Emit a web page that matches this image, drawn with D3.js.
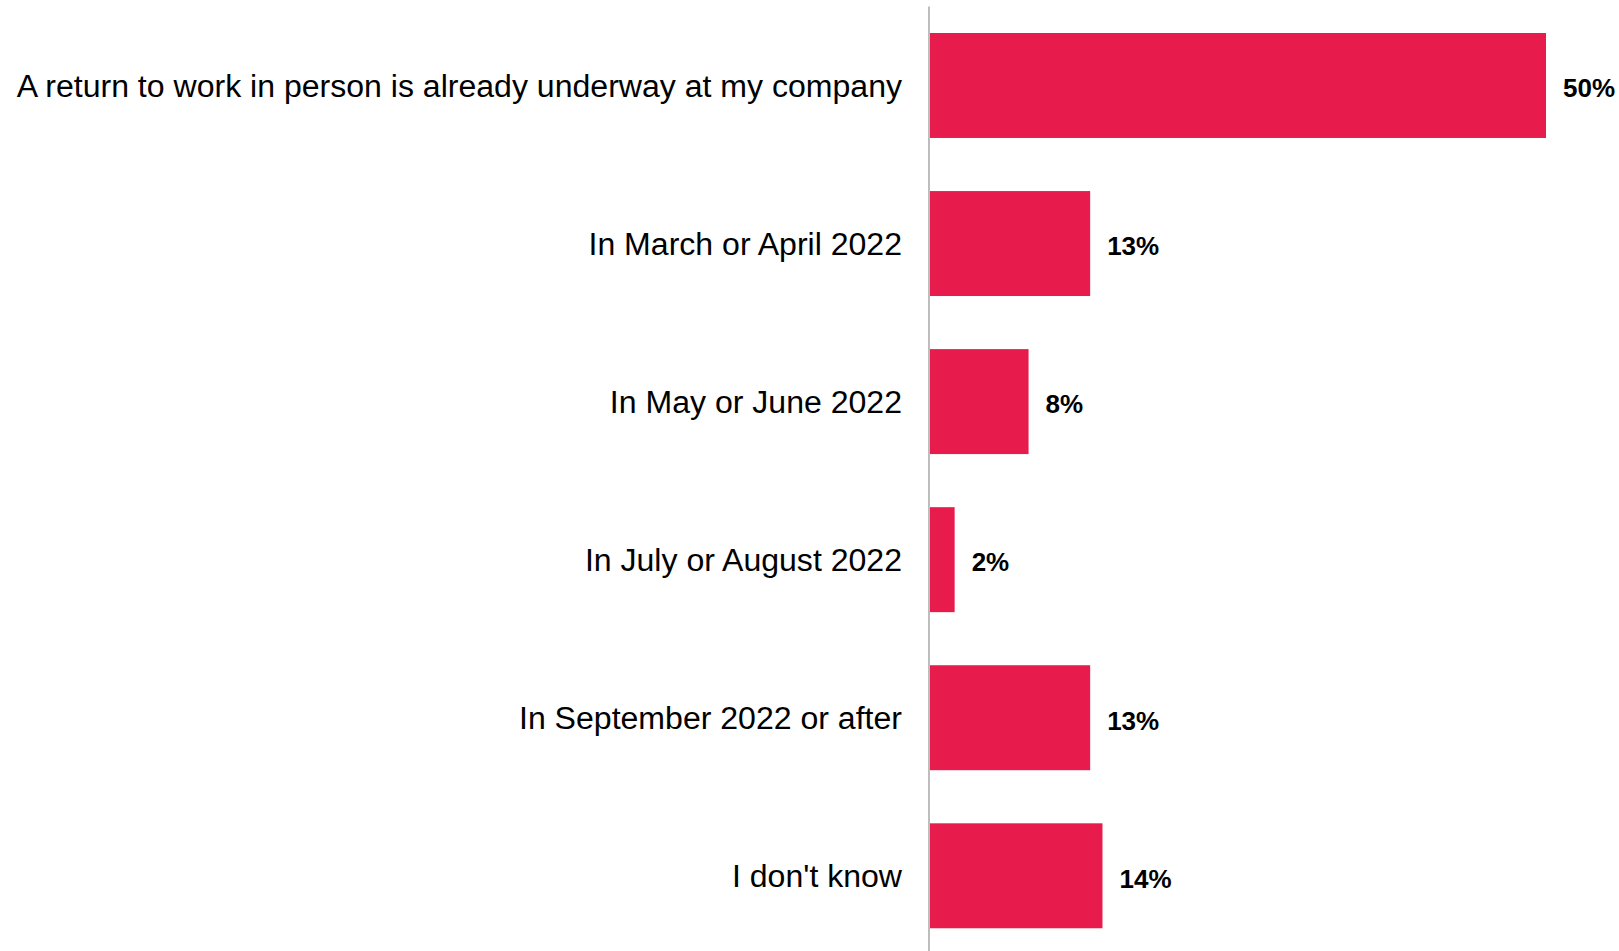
<!DOCTYPE html>
<html>
<head>
<meta charset="utf-8">
<script src="https://cdn.jsdelivr.net/npm/d3@7"></script>
<style>
  html, body { margin: 0; padding: 0; background: #fff; }
  svg { display: block; }
  text { font-family: "Liberation Sans", Arial, Helvetica, sans-serif; fill: #000; }
</style>
</head>
<body>
<svg id="chart" width="1619" height="951"></svg>
<script>
// Survey answers: when will a return to in-person work happen
const categories = [
  "A return to work in person is already underway at my company",
  "In March or April 2022",
  "In May or June 2022",
  "In July or August 2022",
  "In September 2022 or after",
  "I don't know"
];
const shares = [50, 13, 8, 2, 13, 14];
const valueLabels = ["50%", "13%", "8%", "2%", "13%", "14%"];

const rows = categories.map((c, i) => ({ category: c, value: shares[i], label: valueLabels[i] }));

const svg = d3.select("#chart");
const width = 1619, height = 951;

const axisX = 930;
const step = 158.06;

const y = d3.scaleBand()
  .domain(categories)
  .range([6.45, 6.45 + step * categories.length])
  .paddingInner(0.336)
  .paddingOuter(0.168);

const x = d3.scaleLinear()
  .domain([0, 50])
  .range([axisX, 1546]);

// bars
svg.append("g")
  .selectAll("rect")
  .data(rows)
  .join("rect")
  .attr("x", x(0))
  .attr("y", d => y(d.category))
  .attr("width", d => x(d.value) - x(0))
  .attr("height", y.bandwidth())
  .attr("fill", "#e81c4c");

// vertical baseline
svg.append("line")
  .attr("x1", axisX - 1).attr("x2", axisX - 1)
  .attr("y1", 6.45).attr("y2", height)
  .attr("stroke", "#bdbdbd")
  .attr("stroke-width", 2);

// category labels, right-aligned against the baseline
svg.append("g")
  .selectAll("text")
  .data(rows)
  .join("text")
  .attr("x", axisX - 28)
  .attr("y", d => y(d.category) + y.bandwidth() / 2)
  .attr("dy", "0.355em")
  .attr("text-anchor", "end")
  .style("font-size", "32.05px")
  .text(d => d.category);

// value labels at bar ends
svg.append("g")
  .selectAll("text")
  .data(rows)
  .join("text")
  .attr("x", d => x(d.value) + 17)
  .attr("y", d => y(d.category) + y.bandwidth() / 2 + 2.5)
  .attr("dy", "0.358em")
  .style("font-size", "26px")
  .style("font-weight", "bold")
  .text(d => d.label);
</script>
</body>
</html>
